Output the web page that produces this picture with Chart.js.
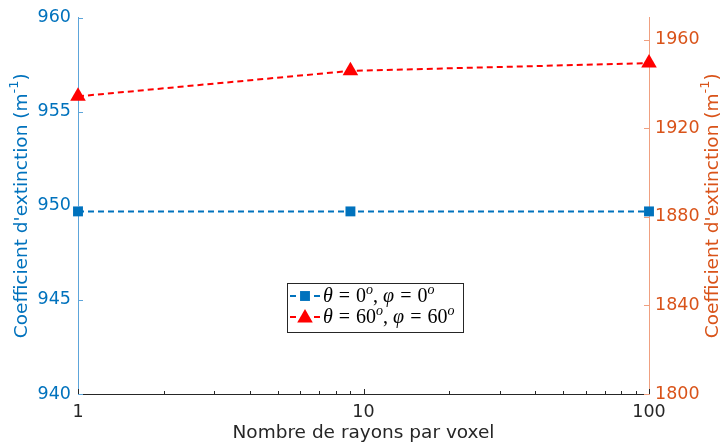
<!DOCTYPE html>
<html>
<head>
<meta charset="utf-8">
<script src="https://cdn.jsdelivr.net/npm/chart.js@4"></script>
<style>
  html, body { margin: 0; padding: 0; background: #fff; }
  #wrap { width: 726px; height: 445px; position: relative; }
</style>
</head>
<body>
<div id="wrap"><canvas id="c" width="726" height="445"></canvas></div>
<script>
// ---- data ----
const rays = [1, 9, 100];
const seriesBlue = [949.7, 949.7, 949.7];          // left axis
const seriesRed = [1934.4, 1945.9, 1949.4];        // right axis
const xTickLabels = ['1', '10', '100'];
const leftTicks = [940, 945, 950, 955, 960];
const rightTicks = [1800, 1840, 1880, 1920, 1960];
const yTitle = "Coefficient d'extinction (m";
const ySup = "-1";
const xTitle = "Nombre de rayons par voxel";
const legendBlue = { angle: '0', dir: '0' };
const legendRed = { angle: '60', dir: '60' };

const BLUE = '#0072BD';
const ORANGE = '#D95319';
const DARK = '#262626';
const FONT = 'DejaVu Sans';
const TICK_SIZE = 17.5;
const TITLE_SIZE = 18.5;

const box = { left: 78, right: 649, top: 16, bottom: 394 };

function fixWidth(w) { return (s) => { s.width = w; }; }

const decorPlugin = {
  id: 'decor',
  afterDraw(chart) {
    const ctx = chart.ctx;
    const x = chart.scales.x, yl = chart.scales.y, yr = chart.scales.y2;
    const ca = chart.chartArea;
    ctx.save();
    ctx.lineWidth = 1;
    // x ticks (inward, up)
    ctx.strokeStyle = DARK;
    for (let d = 0; d < 2; d++) {
      for (let k = 1; k <= 10; k++) {
        const v = Math.pow(10, d) * k;
        if (v > 100) continue;
        const px = Math.round(x.getPixelForValue(v)) + 0.5;
        const len = (k === 1 || k === 10) ? 5 : 3;
        ctx.beginPath(); ctx.moveTo(px, ca.bottom); ctx.lineTo(px, ca.bottom - len); ctx.stroke();
      }
    }
    // left ticks
    ctx.strokeStyle = '#5DA5DA';
    leftTicks.forEach(v => {
      const py = Math.round(yl.getPixelForValue(v)) + 0.5;
      ctx.beginPath(); ctx.moveTo(ca.left, py); ctx.lineTo(ca.left + 5, py); ctx.stroke();
    });
    // right ticks
    ctx.strokeStyle = '#F0A080';
    rightTicks.forEach(v => {
      const py = Math.round(yr.getPixelForValue(v)) + 0.5;
      ctx.beginPath(); ctx.moveTo(ca.right, py); ctx.lineTo(ca.right - 5, py); ctx.stroke();
    });

    // axis titles
    function vTitle(cx, cy, color) {
      ctx.save();
      ctx.translate(cx, cy);
      ctx.rotate(-Math.PI / 2);
      ctx.fillStyle = color;
      ctx.textBaseline = 'middle';
      const big = TITLE_SIZE + 'px "' + FONT + '"';
      const small = Math.round(TITLE_SIZE * 0.7) + 'px "' + FONT + '"';
      ctx.font = big;
      const w1 = ctx.measureText(yTitle).width;
      ctx.font = small;
      const w2 = ctx.measureText(ySup).width;
      ctx.font = big;
      const w3 = ctx.measureText(')').width;
      const total = w1 + w2 + w3;
      let sx = -total / 2;
      ctx.textAlign = 'left';
      ctx.fillText(yTitle, sx, 0);
      ctx.font = small;
      ctx.fillText(ySup, sx + w1, -7);
      ctx.font = big;
      ctx.fillText(')', sx + w1 + w2, 0);
      ctx.restore();
    }
    const cy = (ca.top + ca.bottom) / 2;
    vTitle(22, cy, BLUE);
    vTitle(713, cy, ORANGE);

    ctx.fillStyle = DARK;
    ctx.font = TITLE_SIZE + 'px "' + FONT + '"';
    ctx.textAlign = 'center';
    ctx.textBaseline = 'middle';
    ctx.fillText(xTitle, (ca.left + ca.right) / 2, 433);

    // legend
    const lg = { x: 287, y: 283, w: 176, h: 49 };
    ctx.fillStyle = '#fff';
    ctx.fillRect(lg.x, lg.y, lg.w, lg.h);
    ctx.strokeStyle = '#262626';
    ctx.lineWidth = 1;
    ctx.strokeRect(lg.x + 0.5, lg.y + 0.5, lg.w, lg.h);
    const rows = [
      { ds: chart.data.datasets[0], lab: legendBlue, y: lg.y + 13 },
      { ds: chart.data.datasets[1], lab: legendRed, y: lg.y + 34 }
    ];
    rows.forEach(r => {
      const ds = r.ds;
      ctx.save();
      ctx.strokeStyle = ds.borderColor;
      ctx.lineWidth = 2;
      ctx.beginPath(); ctx.moveTo(lg.x + 3, r.y); ctx.lineTo(lg.x + 9, r.y); ctx.stroke();
      ctx.beginPath(); ctx.moveTo(lg.x + 27, r.y); ctx.lineTo(lg.x + 33, r.y); ctx.stroke();
      ctx.fillStyle = ds.pointBackgroundColor;
      Chart.helpers.drawPoint(ctx, {
        pointStyle: ds.pointStyle, radius: ds.pointRadius, rotation: 0, borderWidth: 0
      }, lg.x + 18, r.y + (ds.pointStyle === 'triangle' ? 1 : 0));
      ctx.restore();
      // math text
      let tx = lg.x + 36;
      const ty = r.y + 1;
      ctx.save();
      ctx.fillStyle = '#000';
      ctx.textAlign = 'left';
      ctx.textBaseline = 'middle';
      const F = '"Liberation Serif"';
      const parts = [
        ['italic 20px ' + F, '\u03B8', 0, 6],
        ['20px ' + F, '=', 0, 6],
        ['20px ' + F, r.lab.angle, 0, 0],
        ['italic 14px ' + F, 'o', -7, 0],
        ['20px ' + F, ',', 0, 5],
        ['italic 20px ' + F, '\u03C6', 0, 6],
        ['20px ' + F, '=', 0, 6],
        ['20px ' + F, r.lab.dir, 0, 0],
        ['italic 14px ' + F, 'o', -7, 0]
      ];
      parts.forEach(p => {
        ctx.font = p[0];
        ctx.fillText(p[1], tx, ty + p[2]);
        tx += ctx.measureText(p[1]).width + p[3];
      });
      ctx.restore();
    });
    ctx.restore();
  }
};

new Chart(document.getElementById('c'), {
  type: 'line',
  data: {
    datasets: [
      {
        label: 'theta=0,phi=0',
        data: rays.map((r, i) => ({ x: r, y: seriesBlue[i] })),
        yAxisID: 'y',
        borderColor: BLUE,
        backgroundColor: BLUE,
        pointBackgroundColor: BLUE,
        pointBorderWidth: 0,
        borderWidth: 2,
        borderDash: [6, 4],
        pointStyle: 'rect',
        pointRadius: 7,
        tension: 0,
        clip: false
      },
      {
        label: 'theta=60,phi=60',
        data: rays.map((r, i) => ({ x: r, y: seriesRed[i] })),
        yAxisID: 'y2',
        borderColor: '#FF0000',
        backgroundColor: '#FF0000',
        pointBackgroundColor: '#FF0000',
        pointBorderWidth: 0,
        borderWidth: 2,
        borderDash: [6, 4],
        pointStyle: 'triangle',
        pointRadius: 9,
        tension: 0,
        clip: false
      }
    ]
  },
  options: {
    responsive: false,
    animation: false,
    layout: { padding: { top: 16, left: 0, right: 0, bottom: 0 } },
    plugins: { legend: { display: false }, tooltip: { enabled: false } },
    scales: {
      x: {
        type: 'logarithmic',
        min: 1, max: 100,
        afterFit: (s) => { s.height = 445 - box.bottom; },
        grid: { display: true, drawOnChartArea: false, drawTicks: false, color: 'rgba(0,0,0,0)' },
        border: { display: true, color: DARK, width: 1 },
        ticks: {
          color: DARK, font: { family: FONT, size: TICK_SIZE }, padding: 8,
          autoSkip: false, maxRotation: 0,
          callback: (v) => { const i = [1, 10, 100].indexOf(v); return i >= 0 ? xTickLabels[i] : ''; }
        }
      },
      y: {
        position: 'left',
        min: 940, max: 960,
        afterFit: fixWidth(box.left),
        afterBuildTicks: (s) => { s.ticks = leftTicks.map(v => ({ value: v })); },
        grid: { display: true, drawOnChartArea: false, drawTicks: false, color: 'rgba(0,0,0,0)' },
        border: { display: true, color: '#5DA5DA', width: 1 },
        ticks: { color: BLUE, font: { family: FONT, size: TICK_SIZE }, padding: 7, callback: (v) => String(v) }
      },
      y2: {
        position: 'right',
        min: 1800, max: 1970,
        afterFit: fixWidth(726 - box.right),
        afterBuildTicks: (s) => { s.ticks = rightTicks.map(v => ({ value: v })); },
        grid: { display: true, drawOnChartArea: false, drawTicks: false, color: 'rgba(0,0,0,0)' },
        border: { display: true, color: '#F0A080', width: 1 },
        ticks: { color: ORANGE, font: { family: FONT, size: TICK_SIZE }, padding: 6, callback: (v) => String(v) }
      }
    }
  },
  plugins: [decorPlugin]
});
</script>
</body>
</html>
